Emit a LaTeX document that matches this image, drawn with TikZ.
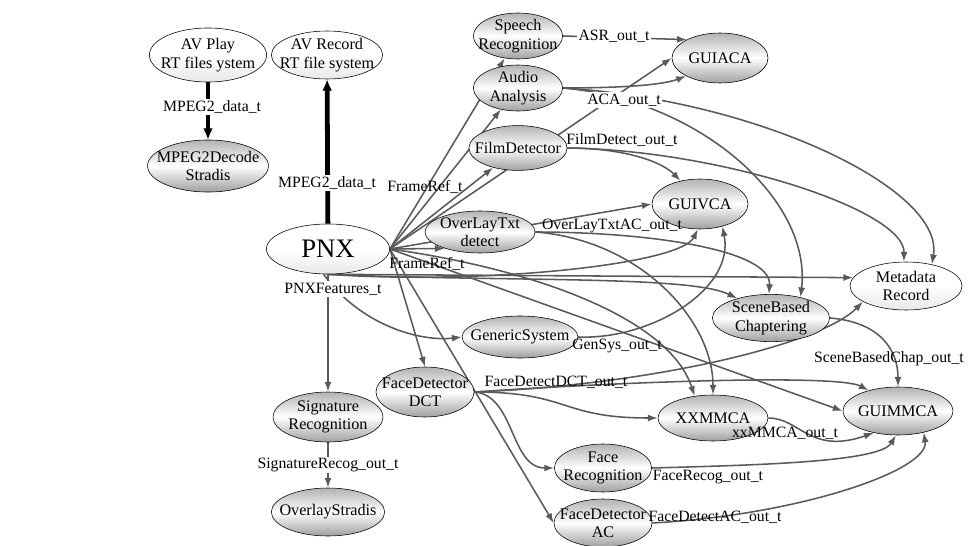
\documentclass[tikz,border=0pt]{standalone}
\usepackage{fontspec}
\setmainfont{Liberation Serif}
\usepackage{tikz}
\usetikzlibrary{arrows.meta,positioning,shapes.geometric,backgrounds}
\definecolor{edgegray}{HTML}{5A5A5A}

\begin{document}
\begin{tikzpicture}[
  x=0.025cm, y=-0.025cm,
  every node/.style={font=\fontsize{11.5}{13}\selectfont},
  proc/.style={ellipse, draw, inner sep=-6pt, align=center, minimum width=2.4cm, minimum height=1.2cm,
    top color=gray!60, bottom color=gray!75, middle color=white},
  plain/.style={proc, top color=white, bottom color=gray!18, middle color=white},
  lbl/.style={font=\fontsize{11.2}{13}\selectfont, inner sep=1pt},
  lblw/.style={lbl, fill=white},
  edge/.style={-{Latex[length=7pt,width=5pt]}, edgegray, line width=1.1pt},
  thickedge/.style={-{Latex[length=8pt,width=7pt]}, black, line width=3.4pt},
]
  \useasboundingbox (0,0) rectangle (969,546);

  % Stradis side
  \node[plain, minimum width=2.93cm, minimum height=1.35cm] (avplay) at (208,55) {AV Play\\RT files ystem};
  \node[proc, minimum width=2.93cm, minimum height=1.3cm] (mpegdec) at (208,166) {MPEG2Decode\\Stradis};
  \node[plain, minimum width=2.78cm, minimum height=1.2cm] (avrec) at (327,55) {AV Record\\RT file system};

  % PNX and its consumers
  \node[plain, minimum width=3.08cm, minimum height=1.25cm, font=\fontsize{19}{22}\selectfont] (pnx) at (328,249) {PNX};
  \node[proc, minimum width=2.23cm, minimum height=1.15cm] (speech) at (518,36) {Speech\\Recognition};
  \node[proc, minimum width=2.23cm, minimum height=1.15cm] (audio) at (518,88) {Audio\\Analysis};
  \node[proc, minimum width=2.25cm, minimum height=1.12cm] (film) at (518,148) {FilmDetector};
  \node[proc, minimum width=2.75cm, minimum height=1.05cm] (overlay) at (480,232) {OverLayTxt\\detect};
  \node[proc, minimum width=2.4cm, minimum height=1.05cm] (generic) at (520,337) {GenericSystem};
  \node[proc, minimum width=2.4cm, minimum height=1.25cm] (facedct) at (425,392) {FaceDetector\\DCT};
  \node[proc, minimum width=2.75cm, minimum height=1.25cm] (sigrec) at (328,417) {Signature\\Recognition};
  \node[proc, minimum width=2.75cm, minimum height=1.2cm] (ovstradis) at (328,512) {OverlayStradis};
  \node[proc, minimum width=2.43cm, minimum height=1.2cm] (facerec) at (603,468) {Face\\Recognition};
  \node[proc, minimum width=2.43cm, minimum height=1.2cm] (faceac) at (603,523) {FaceDetector\\AC};

  % Sinks
  \node[proc, minimum width=2.4cm, minimum height=1.25cm] (guiaca) at (720,58) {GUIACA};
  \node[proc, minimum width=2.4cm, minimum height=1.25cm] (guivca) at (700,204) {GUIVCA};
  \node[plain, minimum width=2.8cm, minimum height=1.2cm] (metadata) at (906,286) {Metadata\\Record};
  \node[proc, minimum width=2.93cm, minimum height=1.18cm] (scene) at (771,318) {SceneBased\\Chaptering};
  \node[proc, minimum width=2.75cm, minimum height=1.15cm] (xxmmca) at (713,418) {XXMMCA};
  \node[proc, minimum width=2.75cm, minimum height=1.2cm] (guimmca) at (898,411) {GUIMMCA};

  \begin{scope}[on background layer]
    % MPEG2 streams
    \draw[thickedge] (avplay) -- (mpegdec);
    \draw[thickedge] (pnx) -- (avrec);

    % FrameRef_t fan out of PNX
    \draw[edge] (pnx.east) -- (speech);
    \draw[edge] (pnx.east) -- (audio);
    \draw[edge] (pnx.east) -- (film);
    \draw[edge] (pnx.east) -- (overlay.205);
    \draw[edge] (pnx.east) -- (guiaca.west);
    \draw[edge] (pnx.east) -- (guivca.west);
    \draw[edge] (pnx.east) -- (guimmca.west);
    \draw[edge] (pnx.east) -- (facedct.north);
    \draw[edge] (pnx.east) -- (faceac.west);
    \draw[edge] (pnx.east) .. controls (540,270) and (670,320) .. (xxmmca.130);

    % PNXFeatures_t
    \draw[edge] (pnx.south) -- (sigrec);
    \draw[edge] (pnx.south) -- (metadata.171);
    \draw[edge] (pnx.south) .. controls (500,282) and (690,275) .. (scene.150);
    \draw[edge] (pnx.south) .. controls (480,285) and (680,265) .. (guivca.-95);
    \draw[edge] (pnx.-100) .. controls (360,325) and (420,342) .. (generic.west);

    % audio
    \draw[edge] (speech.east) -- (guiaca.151);
    \draw[edge] (audio.east) .. controls (610,88) and (660,86) .. (guiaca.208);
    \draw[edge] (audio.east) .. controls (700,100) and (812,200) .. (scene.35);
    \draw[edge] (audio.east) .. controls (760,100) and (945,190) .. (metadata.40);

    % video
    \draw[edge] (film.east) .. controls (620,148) and (660,160) .. (guivca.130);
    \draw[edge] (film.east) .. controls (720,150) and (905,210) .. (metadata.95);
    \draw[edge] (overlay.east) .. controls (650,232) and (772,250) .. (scene.95);
    \draw[edge] (overlay.east) .. controls (640,240) and (713,320) .. (xxmmca.north);
    \draw[edge] (generic.east) .. controls (650,340) and (735,290) .. (guivca.-45);

    % faces
    \draw[edge] (facedct.east) .. controls (650,385) and (820,345) .. (metadata.200);
    \draw[edge] (facedct.east) .. controls (650,380) and (840,375) .. (guimmca.145);
    \draw[edge] (facedct.east) .. controls (570,392) and (560,418) .. (xxmmca.west);
    \draw[edge] (facedct.east) .. controls (515,395) and (510,468) .. (facerec.west);
    \draw[edge] (facerec.east) .. controls (760,465) and (880,462) .. (guimmca.-95);
    \draw[edge] (faceac.east) .. controls (800,515) and (930,470) .. (guimmca.-40);

    % into GUIMMCA
    \draw[edge] (scene.east) .. controls (880,322) and (898,350) .. (guimmca.north);
    \draw[edge] (xxmmca.east) .. controls (800,418) and (810,455) .. (guimmca.222);

    \draw[edge] (sigrec) -- (ovstradis);
  \end{scope}

  % Edge labels
  \node[lblw] (lmpegA) at (212,107) {MPEG2\_data\_t};
  \node[lblw] (lmpegB) at (327,183) {MPEG2\_data\_t};
  \node[lbl] (lframeA) at (425,187) {FrameRef\_t};
  \node[lbl] (lframeB) at (427,264) {FrameRef\_t};
  \node[lblw] (lfeat) at (333,289) {PNXFeatures\_t};
  \node[lblw] (lasr) at (614,36) {ASR\_out\_t};
  \node[lblw] (laca) at (624,100) {ACA\_out\_t};
  \node[lbl] (lfilm) at (622,140) {FilmDetect\_out\_t};
  \node[lbl] (lovl) at (612,226) {OverLayTxtAC\_out\_t};
  \node[lbl] (lgen) at (617,346) {GenSys\_out\_t};
  \node[lbl] (ldct) at (556,382) {FaceDetectDCT\_out\_t};
  \node[lbl] (lscene) at (889,359) {SceneBasedChap\_out\_t};
  \node[lbl] (lxx) at (785,433) {xxMMCA\_out\_t};
  \node[lbl] (lfrec) at (708,477) {FaceRecog\_out\_t};
  \node[lbl] (lfac) at (715,517) {FaceDetectAC\_out\_t};
  \node[lblw] (lsig) at (328,465) {SignatureRecog\_out\_t};

\end{tikzpicture}
\end{document}
